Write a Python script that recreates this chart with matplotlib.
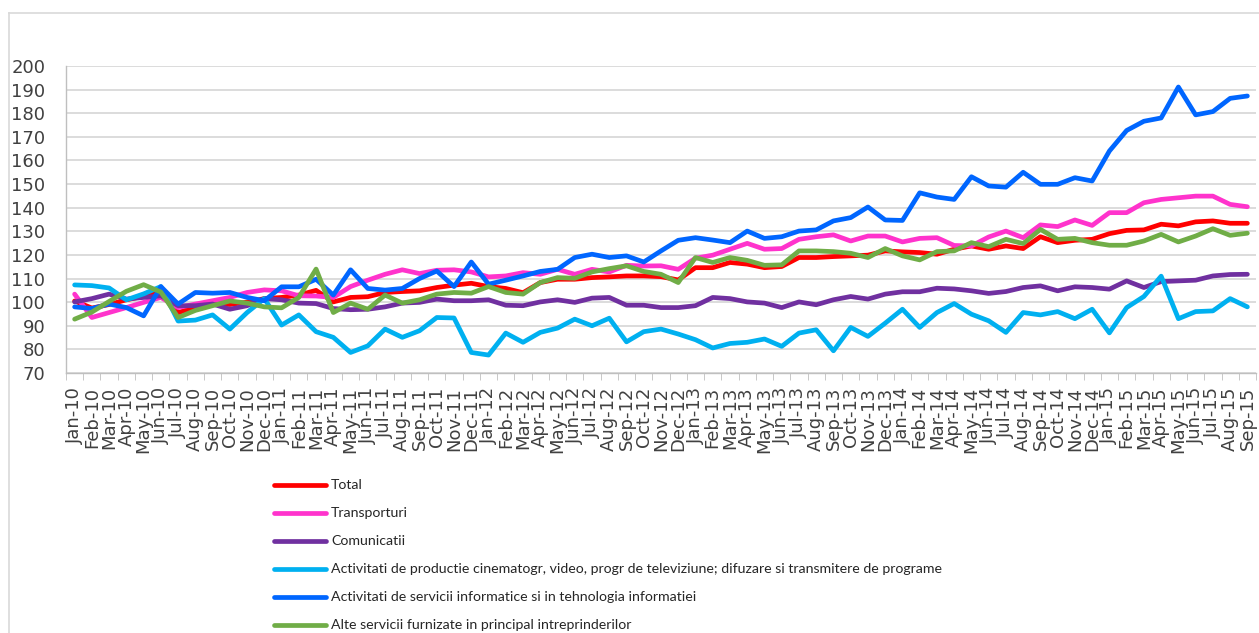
import numpy as np
import matplotlib
matplotlib.use("Agg")
import matplotlib.pyplot as plt
from matplotlib.lines import Line2D

# months Jan-10 .. Sep-15
months = ["Jan", "Feb", "Mar", "Apr", "May", "Jun",
          "Jul", "Aug", "Sep", "Oct", "Nov", "Dec"]
labels = [f"{m}-{y}" for y in range(10, 16) for m in months][:69]

total = [100.5, 97.5, 99, 101, 102.5, 104, 95.5, 98, 99.5, 99, 100, 101.5,
         102, 103, 105, 100.1, 102, 102.3, 104.1, 104.5, 104.8, 106.2, 107.2, 108,
         106.6, 105.8, 104, 108.3, 109.7, 109.7, 110.4, 110.7, 111.1, 111.1, 110.8, 109.4,
         114.6, 114.6, 116.8, 116.1, 114.6, 115.1, 118.9, 118.9, 119.3, 119.6, 119.9, 121.7,
         121.3, 121, 120.3, 122.4, 123.8, 122.4, 123.8, 122.7, 127.7, 125.2, 126.2, 126.6,
         129, 130.4, 130.6, 133, 132.3, 134, 134.4, 133.4, 133.4]

transport = [103.4, 93.5, 95.6, 97.7, 99.9, 102, 97.7, 99.2, 100.6, 102, 104.1, 105.2,
             104.8, 102.7, 102.6, 102, 106.6, 109.3, 111.8, 113.7, 112.1, 113.5, 113.7, 112.8,
             110.7, 111.1, 112.5, 111.8, 113.9, 111.8, 113.9, 112.8, 115.6, 115.3, 115.4, 113.9,
             118.6, 119.9, 122.4, 124.9, 122.4, 122.7, 126.6, 127.7, 128.5, 125.9, 128, 128,
             125.5, 127, 127.3, 124, 123.8, 127.6, 130.1, 127.3, 132.7, 132, 134.8, 132.5,
             137.9, 137.9, 142.1, 143.5, 144.2, 144.9, 144.9, 141.4, 140.4]

comunicatii = [100.1, 101.5, 103.4, 101.3, 102, 102.7, 98.5, 98.5, 99.2, 97, 98.5, 101.5,
               101, 99.6, 99.4, 97.3, 96.8, 97, 98, 99.6, 99.9, 101.3, 100.6, 100.6,
               101, 98.7, 98.5, 100.1, 101, 99.9, 101.7, 102, 98.7, 98.7, 97.7, 97.7,
               98.5, 102, 101.5, 100.1, 99.6, 97.7, 100.1, 98.9, 101, 102.4, 101.3, 103.4,
               104.4, 104.4, 105.9, 105.6, 104.8, 103.7, 104.5, 106.2, 106.9, 104.8, 106.5, 106.2,
               105.5, 109, 106.2, 108.7, 109, 109.3, 111.1, 111.7, 111.8]

cinema = [107.3, 107, 106, 101, 103.5, 106.6, 92, 92.4, 94.6, 88.6, 95.6, 101.5,
          90.3, 94.6, 87.5, 85.1, 78.7, 81.5, 88.6, 85.1, 87.9, 93.5, 93.3, 78.7,
          77.6, 86.9, 83, 87.2, 89, 92.8, 90, 93.2, 83.2, 87.5, 88.6, 86.5,
          84.1, 80.6, 82.5, 83, 84.4, 81.3, 86.9, 88.3, 79.4, 89.3, 85.5, 91.1,
          97, 89.3, 95.6, 99.4, 94.9, 92.1, 87.2, 95.6, 94.6, 96, 93, 97,
          87, 97.7, 102.4, 111, 93, 96, 96.3, 101.5, 98]

informatice = [98, 97.3, 99.2, 97.7, 94.2, 106.6, 99.2, 104.1, 103.8, 104.1, 102, 100.6,
               106.5, 106.5, 109.7, 103, 113.7, 105.8, 105.1, 105.8, 110, 113.2, 106.6, 117,
               107.6, 109.3, 111.1, 113, 113.9, 118.9, 120.3, 118.9, 119.6, 117, 121.7, 126.2,
               127.3, 126.3, 125.2, 130.1, 127, 127.7, 130.1, 130.6, 134.4, 135.8, 140.3, 134.8,
               134.6, 146.3, 144.5, 143.5, 153.1, 149.2, 148.7, 155, 149.9, 149.9, 152.7, 151.3,
               164, 172.7, 176.6, 178, 191.1, 179.3, 180.7, 186.3, 187.3]

alte = [92.8, 95.8, 100.3, 104.6, 107.4, 104.3, 93.5, 96.5, 98.5, 100.5, 99.6, 98,
        97.6, 102, 114, 95.6, 99.6, 97, 103, 99.6, 101, 103.4, 104.1, 103.8,
        106.6, 104.1, 103.4, 108.3, 110.4, 110.1, 112.8, 114.2, 115.4, 113, 111.8, 108.3,
        118.9, 116.8, 118.9, 117.7, 115.6, 115.8, 121.7, 121.7, 121.4, 120.7, 118.9, 122.7,
        119.6, 117.9, 121.4, 121.7, 125.2, 123.5, 126.6, 124.8, 130.8, 126.6, 127, 125.2,
        124.1, 124.1, 125.9, 128.7, 125.5, 128, 131.1, 128.3, 129.2]

series = [
    ("Total", total, "#FF0000"),
    ("Transporturi", transport, "#FF33CC"),
    ("Comunicatii", comunicatii, "#7030A0"),
    ("Activitati de productie cinematogr, video, progr de televiziune; difuzare si transmitere de programe",
     cinema, "#00B0F0"),
    ("Activitati de servicii informatice si in tehnologia informatiei", informatice, "#0066FF"),
    ("Alte servicii furnizate in principal intreprinderilor", alte, "#70AD47"),
]

W, H = 1259, 633
fig = plt.figure(figsize=(W / 100, H / 100), dpi=100)
ax = fig.add_axes([66 / W, 1 - 373 / H, 1190 / W, 307 / H])

x = np.arange(len(labels))
for name, vals, col in series:
    ax.plot(x, vals, color=col, lw=3.4, label=name, solid_capstyle="round",
            solid_joinstyle="round")

ax.set_xlim(-0.5, len(labels) - 0.5)
ax.set_ylim(70, 200)
ax.set_yticks(np.arange(70, 201, 10))
ax.grid(axis="y", color="#D9D9D9", lw=1.3)
ax.set_axisbelow(True)
for s in ["top", "right"]:
    ax.spines[s].set_visible(False)
for s in ["left", "bottom"]:
    ax.spines[s].set_color("#BFBFBF")
    ax.spines[s].set_linewidth(1.0)

ax.set_xticks(x)
ax.set_xticklabels(labels, rotation=90, fontsize=13, color="#404040")
ax.set_xticks(np.arange(-0.5, len(labels), 1), minor=True)
ax.tick_params(axis="x", which="major", length=0, pad=10)
ax.tick_params(axis="x", which="minor", length=5, color="#BFBFBF", direction="out")
ax.tick_params(axis="y", length=0, pad=15, labelsize=13, labelcolor="#404040")

# chart area border (left and top)
fig.add_artist(Line2D([9 / W, 9 / W], [0, 1 - 13 / H], color="#D9D9D9", lw=1.2))
fig.add_artist(Line2D([9 / W, 1], [1 - 13 / H, 1 - 13 / H], color="#D9D9D9", lw=1.2))

# legend below the plot, one entry per row
for k, (name, vals, col) in enumerate(series):
    yk = 1 - (485 + 28 * k) / H
    fig.add_artist(Line2D([274 / W, 326 / W], [yk, yk], color=col, lw=3.4,
                          solid_capstyle="round"))
    fig.text(331 / W, yk, name, fontsize=10.2, family="Lato", color="#262626",
             va="center", ha="left")

fig.savefig("out.png", dpi=100)
